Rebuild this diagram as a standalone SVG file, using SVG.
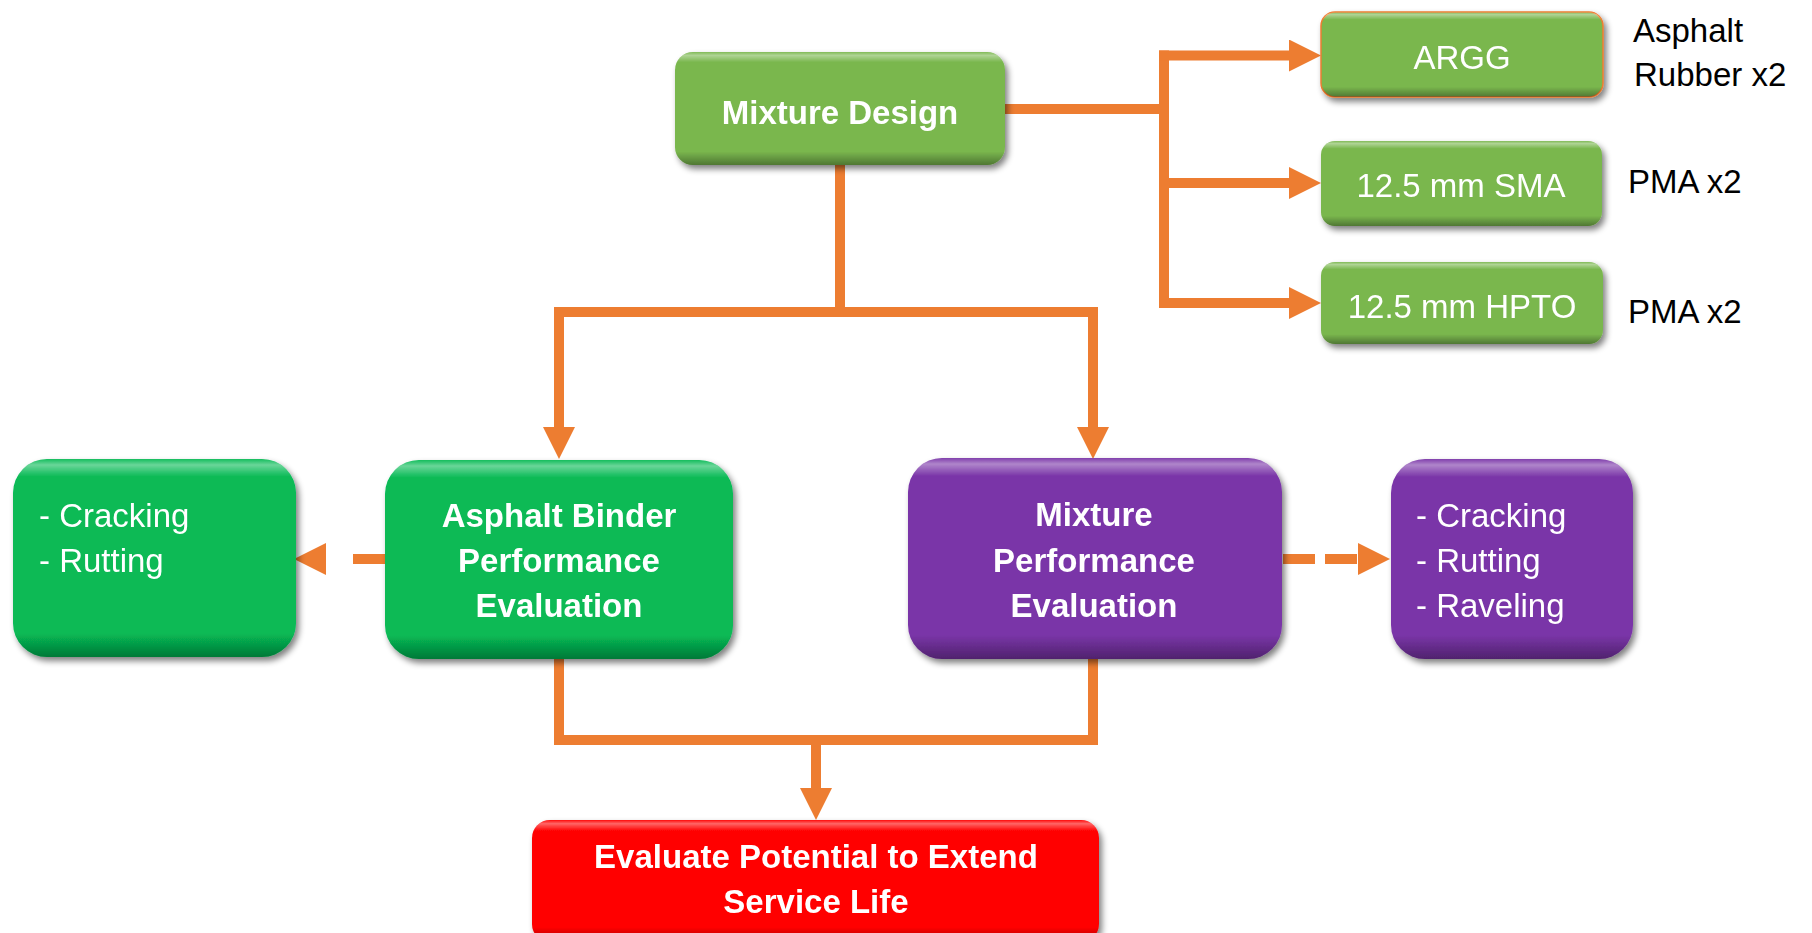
<svg xmlns="http://www.w3.org/2000/svg" width="1812" height="933" viewBox="0 0 1812 933">
<style>
  .t { font-family: "Liberation Sans", Arial, sans-serif; font-size: 33px; fill: #ffffff; }
  .b { font-weight: bold; }
  .lbl { font-family: "Liberation Sans", Arial, sans-serif; font-size: 33px; fill: #000000; }
  .conn { fill: none; stroke: #ED7D31; stroke-width: 10; stroke-linejoin: miter; }
  .gloss { fill: url(#gloss); }
  .lg { fill: #7AB74E; }
  .bg { fill: #07BA55; }
  .pp { fill: #7A35A8; }
  .rd { fill: #FF0000; }
</style>
<defs>
  <filter id="sh" x="-10%" y="-10%" width="125%" height="130%">
    <feGaussianBlur in="SourceAlpha" stdDeviation="3"/>
    <feOffset dx="3" dy="4" result="o"/>
    <feComponentTransfer><feFuncA type="linear" slope="0.5"/></feComponentTransfer>
    <feMerge><feMergeNode/><feMergeNode in="SourceGraphic"/></feMerge>
  </filter>
  <linearGradient id="gloss" x1="0" y1="0" x2="0" y2="1">
    <stop offset="0" stop-color="#ffffff" stop-opacity="0.05"/>
    <stop offset="0.03" stop-color="#ffffff" stop-opacity="0.4"/>
    <stop offset="0.09" stop-color="#ffffff" stop-opacity="0"/>
    <stop offset="0.88" stop-color="#000000" stop-opacity="0"/>
    <stop offset="1" stop-color="#000000" stop-opacity="0.35"/>
  </linearGradient>
  <marker id="ah" markerUnits="userSpaceOnUse" markerWidth="32" markerHeight="32" refX="0" refY="16" orient="auto" viewBox="0 0 32 32">
    <path d="M0,0 L32,16 L0,32 z" fill="#ED7D31"/>
  </marker>
</defs>
<rect width="1812" height="933" fill="#ffffff"/>

<g id="connectors">
  <path class="conn" d="M1005,109 H1164"/>
  <path class="conn" d="M1164,303 V50.5"/>
  <path class="conn" d="M1159,55.5 H1289" marker-end="url(#ah)"/>
  <path class="conn" d="M1164,183 H1289" marker-end="url(#ah)"/>
  <path class="conn" d="M1159,303 H1289" marker-end="url(#ah)"/>
  <path class="conn" d="M840,165 V312"/>
  <path class="conn" d="M1093,426 V312 H559 V426"/>
  <path class="conn" d="M559,426 V427" marker-end="url(#ah)"/>
  <path class="conn" d="M1093,426 V427" marker-end="url(#ah)"/>
  <path class="conn" d="M385,559 H326" stroke-dasharray="32 30" marker-end="url(#ah)"/>
  <path class="conn" d="M1283,559 H1358" stroke-dasharray="32 10" marker-end="url(#ah)"/>
  <path class="conn" d="M559,659 V740 H1093 V659"/>
  <path class="conn" d="M816,740 V788" marker-end="url(#ah)"/>
</g>

<g id="mixture-design" filter="url(#sh)">
  <rect class="lg" x="675" y="52" width="330" height="113" rx="18"/>
  <rect class="gloss" x="675" y="52" width="330" height="113" rx="18"/>
  <text class="t b" x="840" y="124" text-anchor="middle">Mixture Design</text>
</g>

<g id="argg" filter="url(#sh)">
  <rect class="lg" x="1321" y="12" width="282" height="85" rx="14" stroke="#ED7D31" stroke-width="1.5"/>
  <rect class="gloss" x="1321" y="12" width="282" height="85" rx="14"/>
  <text class="t" x="1462" y="69" text-anchor="middle">ARGG</text>
</g>
<g id="sma" filter="url(#sh)">
  <rect class="lg" x="1321" y="141" width="281" height="85" rx="14"/>
  <rect class="gloss" x="1321" y="141" width="281" height="85" rx="14"/>
  <text class="t" x="1461" y="197" text-anchor="middle">12.5 mm SMA</text>
</g>
<g id="hpto" filter="url(#sh)">
  <rect class="lg" x="1321" y="262" width="282" height="82" rx="14"/>
  <rect class="gloss" x="1321" y="262" width="282" height="82" rx="14"/>
  <text class="t" x="1462" y="318" text-anchor="middle">12.5 mm HPTO</text>
</g>

<g id="labels">
  <text class="lbl" x="1633" y="42">Asphalt</text>
  <text class="lbl" x="1634" y="86">Rubber x2</text>
  <text class="lbl" x="1628" y="193">PMA x2</text>
  <text class="lbl" x="1628" y="323">PMA x2</text>
</g>

<g id="binder-list" filter="url(#sh)">
  <rect class="bg" x="13" y="459" width="283" height="198" rx="34"/>
  <rect class="gloss" x="13" y="459" width="283" height="198" rx="34"/>
  <text class="t" x="39" y="527">- Cracking</text>
  <text class="t" x="39" y="572">- Rutting</text>
</g>

<g id="binder-eval" filter="url(#sh)">
  <rect class="bg" x="385" y="460" width="348" height="199" rx="34"/>
  <rect class="gloss" x="385" y="460" width="348" height="199" rx="34"/>
  <text class="t b" x="559" y="527" text-anchor="middle">Asphalt Binder</text>
  <text class="t b" x="559" y="572" text-anchor="middle">Performance</text>
  <text class="t b" x="559" y="617" text-anchor="middle">Evaluation</text>
</g>

<g id="mixture-eval" filter="url(#sh)">
  <rect class="pp" x="908" y="458" width="374" height="201" rx="34"/>
  <rect class="gloss" x="908" y="458" width="374" height="201" rx="34"/>
  <text class="t b" x="1094" y="526" text-anchor="middle">Mixture</text>
  <text class="t b" x="1094" y="572" text-anchor="middle">Performance</text>
  <text class="t b" x="1094" y="617" text-anchor="middle">Evaluation</text>
</g>

<g id="mixture-list" filter="url(#sh)">
  <rect class="pp" x="1391" y="459" width="242" height="200" rx="34"/>
  <rect class="gloss" x="1391" y="459" width="242" height="200" rx="34"/>
  <text class="t" x="1416" y="527">- Cracking</text>
  <text class="t" x="1416" y="572">- Rutting</text>
  <text class="t" x="1416" y="617">- Raveling</text>
</g>

<g id="service-life" filter="url(#sh)">
  <rect class="rd" x="532" y="820" width="567" height="122" rx="18"/>
  <rect class="gloss" x="532" y="820" width="567" height="122" rx="18"/>
  <text class="t b" x="816" y="868" text-anchor="middle">Evaluate Potential to Extend</text>
  <text class="t b" x="816" y="913" text-anchor="middle">Service Life</text>
</g>
</svg>
